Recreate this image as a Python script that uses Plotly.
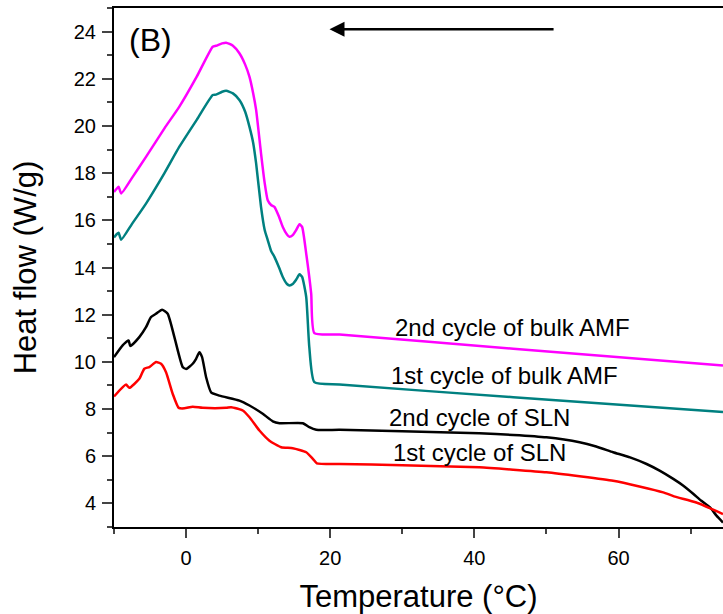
import plotly.graph_objects as go

# DSC cooling curves: heat flow (W/g) vs temperature (°C)
x_amf2 = [-10, -9.6, -9.36, -9.0, -7.5, -5.56, -3.0, -0.93, 1.5, 3.7, 4.16, 5.0, 5.56, 6.5, 7.4, 8.2,
          8.79, 9.3, 9.72, 10.4, 10.9, 11.33, 11.8, 12.26, 12.9, 13.42, 14.0, 14.35, 14.8, 15.3, 15.74,
          16.1, 16.67, 17.36, 17.8, 21.3, 45.4, 74.5]
y_amf2 = [17.2, 17.35, 17.42, 17.14, 17.8, 18.69, 19.9, 20.82, 22.1, 23.36, 23.4, 23.5, 23.53, 23.4, 23.08, 22.6,
          22.09, 21.4, 20.68, 18.84, 17.6, 16.85, 16.65, 16.57, 16.15, 15.72, 15.4, 15.3, 15.37, 15.6, 15.83,
          15.72, 14.59, 12.89, 11.22, 11.16, 10.56, 9.85]

x_amf1 = [-10, -9.6, -9.36, -9.0, -7.5, -5.56, -3.0, -0.93, 1.5, 3.7, 4.16, 5.0, 5.56, 6.5, 7.4, 8.2,
          8.79, 9.3, 9.72, 10.4, 10.9, 11.33, 11.8, 12.26, 12.9, 13.42, 14.0, 14.35, 14.8, 15.3, 15.74,
          16.1, 16.67, 17.1, 17.8, 21.3, 45.4, 74.5]
y_amf1 = [15.27, 15.42, 15.47, 15.18, 15.85, 16.71, 18.0, 19.12, 20.27, 21.31, 21.33, 21.45, 21.49, 21.38, 21.1, 20.6,
          19.97, 19.3, 18.41, 16.57, 15.6, 15.16, 14.7, 14.45, 14.0, 13.6, 13.3, 13.24, 13.3, 13.5, 13.71,
          13.6, 12.75, 10.62, 9.14, 9.04, 8.5, 7.87]

x_sln2 = [-10, -8.8, -7.97, -7.74, -6.49, -5.56, -4.86, -4.17, -3.33, -2.55, -1.62, -0.47, 0.0, 0.92, 1.39,
          1.85, 2.22, 2.78, 3.47, 4.63, 7.4, 8.8, 10.64, 12.03, 12.96, 16.2, 17.1, 18.06, 21.3, 30, 40.7,
          45.4, 50, 54.6, 56.9, 59.25, 61.6, 63.9, 65.7, 67.6, 69.0, 70.4, 71.5, 72.7, 73.6, 74.5]
y_sln2 = [10.2, 10.7, 10.91, 10.67, 11.05, 11.47, 11.9, 12.04, 12.21, 12.04, 11.05, 9.78, 9.7, 9.92, 10.13,
          10.41, 10.2, 9.35, 8.71, 8.57, 8.36, 8.15, 7.8, 7.48, 7.4, 7.4, 7.23, 7.12, 7.12, 7.06, 6.97,
          6.9, 6.8, 6.59, 6.41, 6.17, 5.95, 5.67, 5.39, 5.04, 4.75, 4.4, 4.11, 3.83, 3.48, 3.19]

x_sln1 = [-10, -8.33, -7.87, -6.49, -5.79, -5.1, -4.17, -3.47, -2.78, -1.86, -1.02, -0.23, 0.92, 2.3, 5.56,
          6.25, 7.87, 8.8, 10.18, 11.57, 13.2, 14.8, 16.67, 17.59, 18.14, 21.3, 30, 40.7, 45.4, 50, 54.6,
          59.25, 62.9, 66.2, 67.7, 70.8, 74.5]
y_sln1 = [8.53, 9.04, 8.9, 9.28, 9.71, 9.78, 9.99, 9.92, 9.56, 8.65, 8.05, 8.03, 8.1, 8.05, 8.05,
          8.08, 7.94, 7.65, 7.09, 6.66, 6.38, 6.34, 6.17, 5.89, 5.7, 5.67, 5.62, 5.53, 5.43, 5.32, 5.15,
          4.96, 4.72, 4.47, 4.3, 4.04, 3.55]

series = [
    ("2nd cycle of bulk AMF", x_amf2, y_amf2, "#FF00FF"),
    ("1st cycle of bulk AMF", x_amf1, y_amf1, "#008080"),
    ("2nd cycle of SLN", x_sln2, y_sln2, "#000000"),
    ("1st cycle of SLN", x_sln1, y_sln1, "#FF0000"),
]

# curve label text and anchor positions (data units)
label_x = [45.3, 44.2, 40.7, 40.7]
label_y = [11.47, 9.42, 7.65, 6.17]

FONT = "Liberation Sans, Arial, sans-serif"

fig = go.Figure()
for name, xs, ys, col in series:
    fig.add_trace(go.Scatter(x=xs, y=ys, mode="lines", name=name,
                             line=dict(color=col, width=2.5, shape="spline", smoothing=0.5)))

for (name, _, _, _), lx, ly in zip(series, label_x, label_y):
    fig.add_annotation(x=lx, y=ly, text=name, showarrow=False,
                       font=dict(family=FONT, size=24, color="black"))

fig.add_annotation(x=-5.0, y=23.65, text="(B)", showarrow=False,
                   font=dict(family=FONT, size=32, color="black"))

# cooling direction arrow
fig.add_annotation(x=19.9, y=24.1, ax=51.2, ay=24.1, xref="x", yref="y", axref="x", ayref="y",
                   text="", showarrow=True, arrowhead=2, arrowsize=1.2, arrowwidth=2.5, arrowcolor="black")

fig.update_layout(
    width=723, height=614,
    margin=dict(l=114, r=0, t=8, b=87),
    paper_bgcolor="white", plot_bgcolor="white",
    showlegend=False,
    font=dict(family=FONT, color="black"),
)
fig.update_xaxes(
    range=[-10, 74.5], tick0=0, dtick=20, ticks="outside", ticklen=9, tickwidth=2,
    showline=True, linewidth=2, linecolor="black", mirror=True, showgrid=False, zeroline=False,
    tickfont=dict(size=20), ticklabelstandoff=3,
    minor=dict(ticks="outside", dtick=10, tick0=0, ticklen=5, tickwidth=2),
    title=dict(text="Temperature (°C)", font=dict(size=31), standoff=18),
)
fig.update_yaxes(
    range=[3, 25], tick0=0, dtick=2, ticks="outside", ticklen=10, tickwidth=2,
    showline=True, linewidth=2, linecolor="black", mirror=False, showgrid=False, zeroline=False,
    tickfont=dict(size=20), ticklabelstandoff=2,
    minor=dict(ticks="outside", dtick=1, tick0=0, ticklen=5, tickwidth=2),
    title=dict(text="Heat flow (W/g)", font=dict(size=31), standoff=28),
)

fig.write_html("out.html")
